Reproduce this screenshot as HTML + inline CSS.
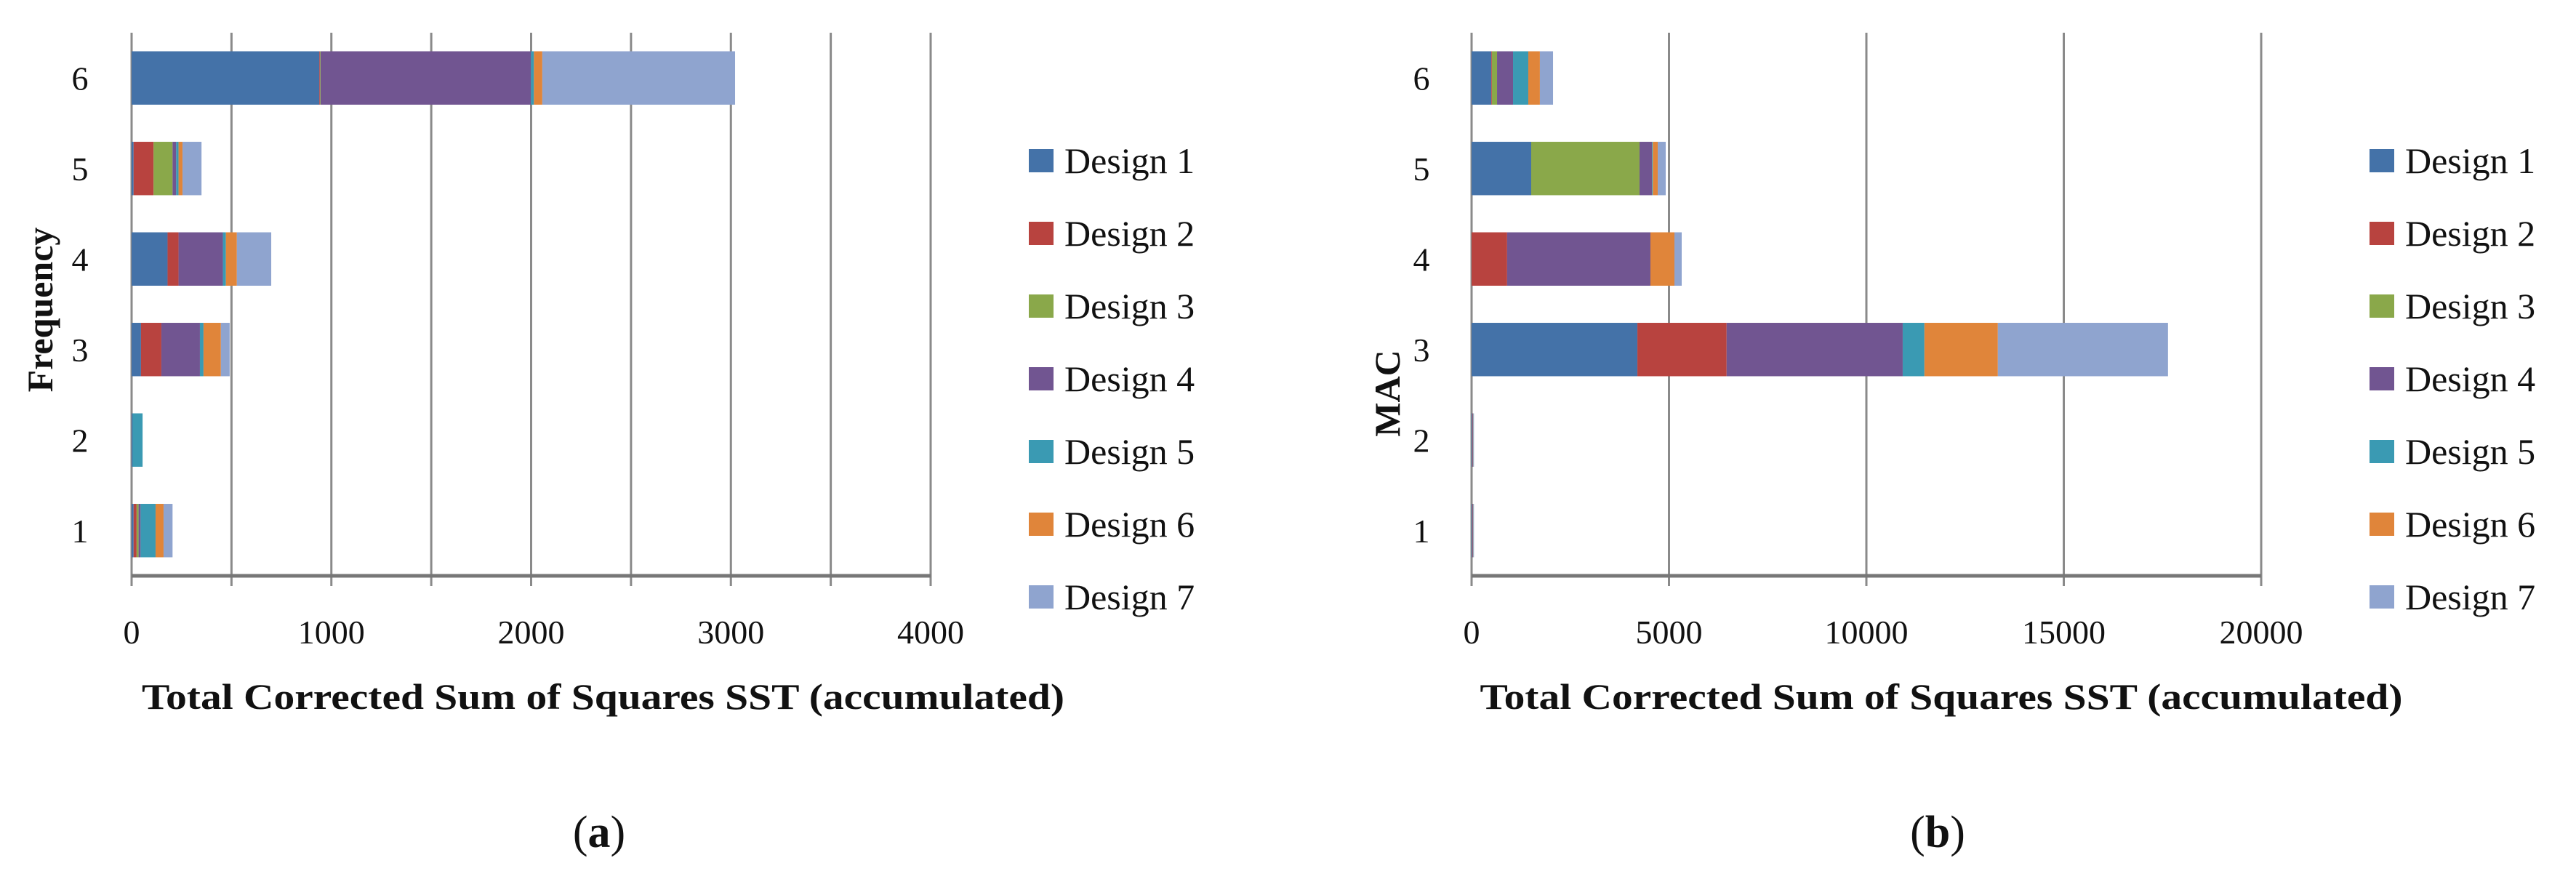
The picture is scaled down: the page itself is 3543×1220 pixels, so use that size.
<!DOCTYPE html>
<html><head><meta charset="utf-8"><style>
html,body{margin:0;padding:0;background:#fff;}
svg{display:block;}
text{font-family:"Liberation Serif",serif;fill:#111;}
</style></head><body>
<svg id="fig" width="3543" height="1220" viewBox="0 0 3543 1220">
<g id="chartA"></g>
<g id="chartB"></g>
</svg>
<script>
const categories = ["1","2","3","4","5","6"];
const seriesNames = ["Design 1","Design 2","Design 3","Design 4","Design 5","Design 6","Design 7"];
const colors = ["#4472a8","#b8433f","#8aa84a","#715591","#3a9ab3","#e0853a","#8fa4cf"];
// chart (a): Frequency — values per design, rows 1..6
const freqD1 = [10, 5, 47, 180, 10, 940];
const freqD2 = [15, 0, 102, 55, 100, 3];
const freqD3 = [10, 0, 0, 0, 95, 3];
const freqD4 = [10, 0, 193, 222, 18, 1053];
const freqD5 = [75, 50, 18, 15, 12, 15];
const freqD6 = [40, 0, 87, 55, 20, 42];
const freqD7 = [45, 0, 44, 172, 95, 965];
const freqTicks = [0, 1000, 2000, 3000, 4000];
// chart (b): MAC
const macD1 = [20, 20, 4200, 0, 1510, 500];
const macD2 = [10, 10, 2260, 900, 0, 15];
const macD3 = [0, 0, 0, 0, 2744, 130];
const macD4 = [10, 10, 4460, 3630, 316, 405];
const macD5 = [5, 5, 550, 0, 20, 386];
const macD6 = [5, 5, 1860, 608, 125, 294];
const macD7 = [10, 10, 4310, 184, 202, 333];
const macTicks = [0, 5000, 10000, 15000, 20000];

const NS = "http://www.w3.org/2000/svg";
function mk(tag, attrs, parent){
  const e = document.createElementNS(NS, tag);
  for (const k in attrs) e.setAttribute(k, attrs[k]);
  parent.appendChild(e); return e;
}

function drawChart(g, cfg){
  const x0 = cfg.x0, x1 = cfg.x1, top = 45, bottom = 792;
  const xmax = cfg.ticks[cfg.ticks.length-1];
  const xs = v => x0 + (v / xmax) * (x1 - x0);
  const band = (bottom - top) / categories.length;
  const yc = i => bottom - band * (i + 0.5);
  // gridlines
  for (let v = 0; v <= xmax + 1e-9; v += cfg.grid){
    const l = mk("line", {x1: xs(v), x2: xs(v), y1: top, y2: bottom + 14, stroke: "#8a8a8a", "stroke-width": 3}, g);
    
    
  }
  const ax = mk("line", {x1: x0, x2: x1, y1: bottom, y2: bottom, stroke: "#777", "stroke-width": 5}, g);
  
  
  // tick labels
  cfg.ticks.forEach(t => {
    const tx = mk("text", {x: xs(t), y: 885, "font-size": 46, "text-anchor": "middle"}, g);
    tx.textContent = t;
    
    
  });
  categories.forEach((c, i) => {
    const ty = mk("text", {x: cfg.ylabX, y: yc(i) + 16, "font-size": 46, "text-anchor": "middle"}, g);
    ty.textContent = c;
    
    
  });
  // bars
  const barH = band * 0.59;
  categories.forEach((c, i) => {
    let acc = 0;
    cfg.series.forEach((s, k) => {
      const v = s[i];
      if (v <= 0) return;
      const r = mk("rect", {x: xs(acc), y: yc(i) - barH/2, width: xs(acc + v) - xs(acc), height: barH, fill: colors[k]}, g);
      
      
      acc += v;
    });
  });
  // axis titles
  const xt = mk("text", {x: (x0 + x1)/2 + cfg.titleShift, y: 975, "font-size": 50, "font-weight": "bold", "text-anchor": "middle", textLength: 1269, lengthAdjust: "spacingAndGlyphs"}, g);
  xt.textContent = "Total Corrected Sum of Squares SST (accumulated)";
  
  
  const yt = mk("text", {x: 0, y: 0, "font-size": 50, "font-weight": "bold", "text-anchor": "middle", transform: `translate(${cfg.ytX},${cfg.ytY}) rotate(-90)`}, g);
  yt.textContent = cfg.ytitle;
  
  
  // legend
  seriesNames.forEach((n, k) => {
    const y = 221 + k * 100;
    const sw = mk("rect", {x: cfg.legX, y: y - 16, width: 34, height: 32, fill: colors[k]}, g);
    
    
    const lt = mk("text", {x: cfg.legX + 49, y: y + 17, "font-size": 50}, g);
    lt.textContent = n;
    
    
  });
  // panel label
  const pl = mk("text", {x: cfg.panelX, y: 1165, "font-size": 62, "text-anchor": "middle"}, g);
  pl.innerHTML = '(<tspan font-weight="bold">' + cfg.panel + '</tspan>)';
  
  
}

drawChart(document.getElementById("chartA"), {
  x0: 181, x1: 1280, ticks: freqTicks, grid: 500,
  series: [freqD1, freqD2, freqD3, freqD4, freqD5, freqD6, freqD7],
  ylabX: 110, ytitle: "Frequency", ytX: 72, ytY: 426, legX: 1415, panelX: 824, panel: "a", titleShift: 99
});
drawChart(document.getElementById("chartB"), {
  x0: 2024, x1: 3110, ticks: macTicks, grid: 5000,
  series: [macD1, macD2, macD3, macD4, macD5, macD6, macD7],
  ylabX: 1955, ytitle: "MAC", ytX: 1925, ytY: 541, legX: 3259, panelX: 2665, panel: "b", titleShift: 103
});
</script>
</body></html>
